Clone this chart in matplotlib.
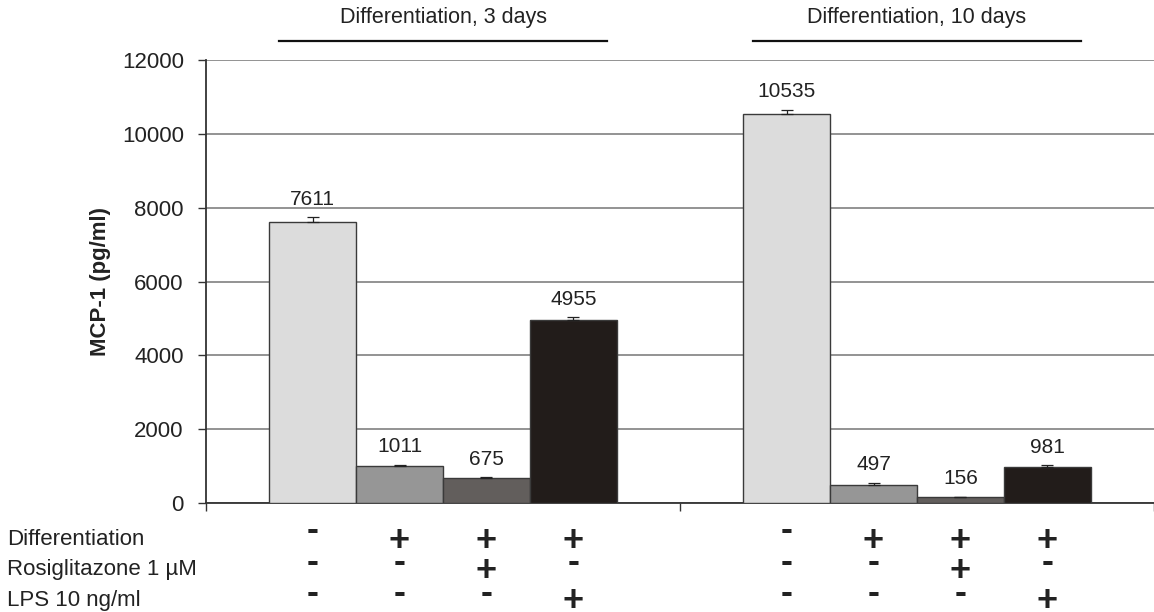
import numpy as np
import matplotlib
matplotlib.use("Agg")
import matplotlib.pyplot as plt

plt.rcParams['font.family'] = ['Liberation Sans', 'DejaVu Sans']

# data
groups = ["Differentiation, 3 days", "Differentiation, 10 days"]
mcp1_3d = [7611, 1011, 675, 4955]
mcp1_10d = [10535, 497, 156, 981]
err_3d = [127, 30, 30, 80]
err_10d = [120, 55, 20, 45]
row_names = ["Differentiation", "Rosiglitazone 1 \u00b5M", "LPS 10 ng/ml"]
diff_signs = ["-", "+", "+", "+"]
rosi_signs = ["-", "-", "+", "-"]
lps_signs = ["-", "-", "-", "+"]
bar_colors = ["#dcdcdc", "#969696", "#625e5c", "#221c1a"]
yticks = [0, 2000, 4000, 6000, 8000, 10000, 12000]

txt = "#222222"
W, H = 1154, 612
fig = plt.figure(figsize=(W / 100, H / 100), dpi=100)
ax = fig.add_axes([206 / W, 1 - 503 / H, 948 / W, 443 / H])

width = 0.1834
offs = (np.arange(4) - 1.5) * width
values = [mcp1_3d, mcp1_10d]
errs = [err_3d, err_10d]

for g in range(2):
    xs = g + 0.5 + offs
    ax.bar(xs, values[g], width=width, color=bar_colors, edgecolor="#3a3a3a",
           linewidth=1.0, zorder=3)
    ax.errorbar(xs, values[g], yerr=[np.zeros(4), errs[g]], fmt="none",
                ecolor="#222222", elinewidth=0.9, capsize=4, capthick=0.9, zorder=4)
    for x, v, e in zip(xs, values[g], errs[g]):
        ax.annotate(str(v), (x, v + e), xytext=(0, 6), textcoords="offset points",
                    ha="center", va="bottom", fontsize=15, color=txt)

ax.set_xlim(0, 2)
ax.set_ylim(0, 12000)
ax.set_yticks(yticks)
ax.set_yticklabels([str(t) for t in yticks], fontsize=16, color=txt)
ax.tick_params(axis="y", direction="out", length=6, width=1, color="#333333", pad=10)
ax.set_xticks([0, 1, 2])
ax.set_xticklabels([])
ax.tick_params(axis="x", direction="out", length=6, width=1, color="#333333")
ax.yaxis.grid(True, color="#8a8a8a", linewidth=1.3, zorder=0)
ax.set_axisbelow(True)
for s in ["top", "right"]:
    ax.spines[s].set_visible(False)
for s in ["left", "bottom"]:
    ax.spines[s].set_color("#333333")
    ax.spines[s].set_linewidth(1.3)
ax.set_ylabel("MCP-1 (pg/ml)", fontsize=16, fontweight="bold", color=txt, labelpad=8)

# group headers with lines
tr = ax.get_xaxis_transform()
for g, name in enumerate(groups):
    ax.text(g + 0.5, 1.097, name, transform=tr, ha="center", va="center",
            fontsize=15.5, color=txt, clip_on=False)
    ax.plot([g + 0.5 - 0.346, g + 0.5 + 0.346], [1.043, 1.043], transform=tr,
            color="#111111", linewidth=1.6, clip_on=False)

# condition table under the axis (baselines in pixels from the top)
label_base = [545, 575, 606]
plus_base = [551, 581, 611]
minus_base = [540, 572, 603]
signs = [diff_signs, rosi_signs, lps_signs]
for r, name in enumerate(row_names):
    fig.text(7 / W, 1 - label_base[r] / H, name, fontsize=16, color=txt,
             ha="left", va="baseline")
    for g in range(2):
        xs = g + 0.5 + offs
        for x, s in zip(xs, signs[r]):
            yb = plus_base[r] if s == "+" else minus_base[r]
            ax.text(x, (503 - yb) / 443, s, transform=tr, ha="center", va="baseline",
                    fontsize=26, fontweight="bold", color=txt, clip_on=False)

fig.savefig("out.png", dpi=100)
